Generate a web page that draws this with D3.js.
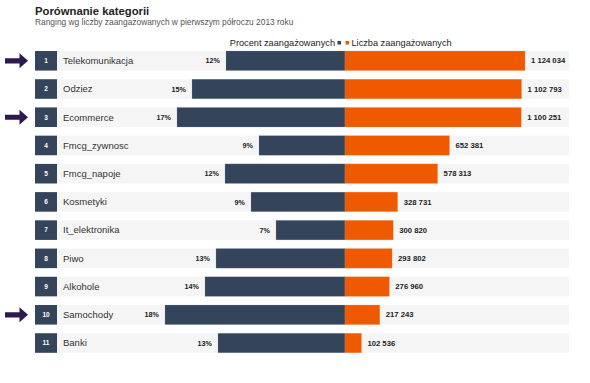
<!DOCTYPE html>
<html>
<head>
<meta charset="utf-8">
<script src="https://cdn.jsdelivr.net/npm/d3@7"></script>
<style>
  html, body { margin: 0; padding: 0; background: #fff; }
  svg { display: block; font-family: "Liberation Sans", Arial, Helvetica, sans-serif; }
</style>
</head>
<body>
<svg id="chart" width="590" height="383"></svg>
<script>
const title = "Porównanie kategorii";
const subtitle = "Ranging wg liczby zaangażowanych w pierwszym półroczu 2013 roku";
const legendLeft = "Procent zaangażowanych";
const legendRight = "Liczba zaangażowanych";
const categories = ["Telekomunikacja","Odziez","Ecommerce","Fmcg_zywnosc","Fmcg_napoje","Kosmetyki","It_elektronika","Piwo","Alkohole","Samochody","Banki"];
const ranks = [1,2,3,4,5,6,7,8,9,10,11];
const percentValues = [11.9,15.3,16.8,8.6,12.0,9.4,6.9,12.9,14.0,18.0,12.7];
const countValues = [1124034,1102793,1100251,652381,578313,328731,300820,293802,276960,217243,102536];
const highlightedRanks = [1,3,10];

const svg = d3.select("#chart");
const DARK = "#34445b", ORANGE = "#ef5a00", ROWBG = "#f5f5f5", ARROW = "#2e1a4f";
const cx = 345, halfW = 180;
const rowLeft = 35, rowRight = 569, boxW = 22;

const y = d3.scaleBand().domain(ranks).range([51, 352.8]).paddingInner(0.307).paddingOuter(0);
const xl = d3.scaleLinear().domain([0, d3.max(percentValues)]).range([0, halfW]);
const xr = d3.scaleLinear().domain([0, d3.max(countValues)]).range([0, halfW]);
const fmtCount = v => d3.format(",")(v).replace(/,/g, " ");

svg.append("text").attr("x", 35).attr("y", 15).attr("font-size", 11.3).attr("font-weight", "bold").attr("fill", "#222").text(title);
svg.append("text").attr("x", 35).attr("y", 24.5).attr("font-size", 8.4).attr("fill", "#555").text(subtitle);

// legend
svg.append("text").attr("x", 335).attr("y", 45.5).attr("text-anchor", "end").attr("font-size", 9.2).attr("fill", "#222").text(legendLeft);
svg.append("rect").attr("x", 337.5).attr("y", 41).attr("width", 3.5).attr("height", 3.5).attr("fill", DARK);
svg.append("rect").attr("x", 345.5).attr("y", 41).attr("width", 3.5).attr("height", 3.5).attr("fill", ORANGE);
svg.append("text").attr("x", 351.5).attr("y", 45.5).attr("font-size", 9.2).attr("fill", "#222").text(legendRight);

const data = categories.map((c, i) => ({cat: c, rank: ranks[i], pct: percentValues[i], cnt: countValues[i]}));

const rows = svg.append("g").selectAll("g").data(data).join("g");

rows.append("rect").attr("x", rowLeft).attr("y", d => y(d.rank)).attr("width", rowRight - rowLeft).attr("height", y.bandwidth()).attr("fill", ROWBG);
rows.append("rect").attr("x", rowLeft).attr("y", d => y(d.rank)).attr("width", boxW).attr("height", y.bandwidth()).attr("fill", DARK);
rows.append("text").attr("x", rowLeft + boxW / 2).attr("y", d => y(d.rank) + y.bandwidth() / 2 + 2.3)
  .attr("text-anchor", "middle").attr("font-size", 6.5).attr("font-weight", "bold").attr("fill", "#fff").text(d => d.rank);
rows.append("text").attr("x", 63).attr("y", d => y(d.rank) + y.bandwidth() / 2 + 3.3)
  .attr("font-size", 9.5).attr("fill", "#333").text(d => d.cat);

rows.append("rect").attr("x", d => cx - xl(d.pct)).attr("y", d => y(d.rank)).attr("width", d => xl(d.pct)).attr("height", y.bandwidth())
  .attr("fill", DARK).attr("stroke", "#8fa0b8").attr("stroke-width", 0.4).attr("stroke-opacity", 0.6);
rows.append("rect").attr("x", cx).attr("y", d => y(d.rank)).attr("width", d => xr(d.cnt)).attr("height", y.bandwidth())
  .attr("fill", ORANGE).attr("stroke", "#f59a60").attr("stroke-width", 0.4).attr("stroke-opacity", 0.6);

rows.append("text").attr("x", d => cx - xl(d.pct) - 6).attr("y", d => y(d.rank) + y.bandwidth() / 2 + 2.6)
  .attr("text-anchor", "end").attr("font-size", 7.2).attr("font-weight", "bold").attr("fill", "#222").text(d => Math.round(d.pct) + "%");
rows.append("text").attr("x", d => cx + xr(d.cnt) + 6).attr("y", d => y(d.rank) + y.bandwidth() / 2 + 2.7)
  .attr("font-size", 7.7).attr("font-weight", "bold").attr("fill", "#222").text(d => fmtCount(d.cnt));

// arrows
const arrowData = data.filter(d => highlightedRanks.includes(d.rank));
svg.append("g").selectAll("path").data(arrowData).join("path")
  .attr("d", d => {
    const m = y(d.rank) + y.bandwidth() / 2;
    return `M5,${m - 2.6} L19.5,${m - 2.6} L19.5,${m - 7.5} L28,${m} L19.5,${m + 7.5} L19.5,${m + 2.6} L5,${m + 2.6} Z`;
  })
  .attr("fill", ARROW);
</script>
</body>
</html>
